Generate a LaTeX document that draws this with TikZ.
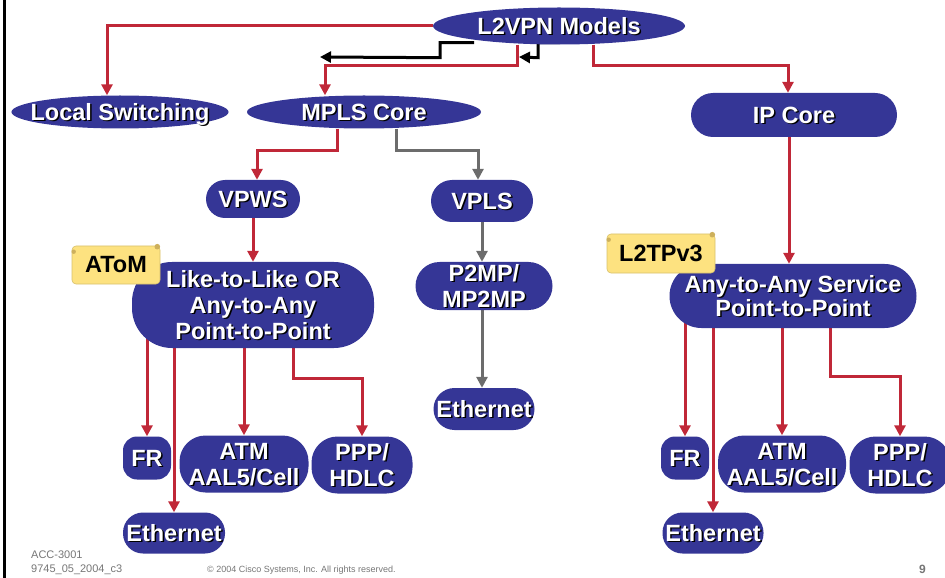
\documentclass[tikz,border=0pt]{standalone}
\usepackage{fontspec}
\setmainfont{Liberation Sans}
\usepackage{xcolor}
\usepackage{tikz}
\usetikzlibrary{positioning,backgrounds,shapes.geometric,arrows.meta}

\definecolor{ciscoblue}{RGB}{53,54,150}
\definecolor{linkred}{RGB}{192,40,56}
\definecolor{linkgray}{RGB}{108,108,108}
\definecolor{tagyellow}{RGB}{253,226,128}
\definecolor{tagdot}{RGB}{205,176,92}
\definecolor{footgray}{RGB}{118,118,118}

\newcommand{\boxfont}{\fontsize{23.5bp}{26bp}\selectfont\bfseries}
\newcommand{\shadowtxt}[1]{\makebox[0pt]{\raisebox{0pt}[0.72em][0pt]{\rlap{\hspace{1.5bp}\raisebox{-1.5bp}[0pt][0pt]{\color{black}#1}}#1}}}

\begin{document}
\begin{tikzpicture}[
    x=1bp, y=-1bp,
    oval/.style={ellipse, fill=ciscoblue, text=white, inner sep=0pt, font=\boxfont},
    pill/.style={rectangle, rounded corners=#1, fill=ciscoblue, text=white, inner sep=0pt, align=center, font=\boxfont},
    pill/.default=20bp,
    tag/.style={rectangle, rounded corners=4bp, fill=tagyellow, draw=tagyellow!85!black, line width=0.6bp, text=black, inner sep=0pt, font=\boxfont},
    redarrow/.style={-{Triangle[width=11bp,length=11bp]}, line width=3bp, draw=linkred},
    grayarrow/.style={-{Triangle[width=11bp,length=11bp]}, line width=3bp, draw=linkgray},
    blackarrow/.style={-{Triangle[width=11bp,length=11bp]}, line width=3bp, draw=black},
    footer/.style={text=footgray, inner sep=0pt, anchor=base west}
]
\useasboundingbox (0,0) rectangle (945,578);

% slide border
\draw[line width=3bp] (4,0) -- (4,578);

% top level
\node[oval, minimum width=252bp, minimum height=37bp] (l2vpn) at (559,26) {\shadowtxt{L2VPN Models}};
\node[oval, minimum width=217bp, minimum height=33bp] (localsw) at (120,112) {\shadowtxt{Local Switching}};
\node[oval, minimum width=234bp, minimum height=33bp] (mpls) at (364,112) {\shadowtxt{MPLS Core}};
\node[pill=22bp, minimum width=206bp, minimum height=44bp] (ipcore) at (794,115) {\shadowtxt{IP Core}};

% MPLS branch
\node[pill=19bp, minimum width=94bp, minimum height=38bp] (vpws) at (253,199) {\shadowtxt{VPWS}};
\node[pill=21bp, minimum width=102bp, minimum height=42bp] (vpls) at (482,201) {\shadowtxt{VPLS}};
\node[pill=40bp, minimum width=242bp, minimum height=86bp] (like) at (253,305) {\shadowtxt{Like-to-Like OR}\\\shadowtxt{Any-to-Any}\\\shadowtxt{Point-to-Point}};
\node[pill=24bp, minimum width=137bp, minimum height=48bp] (p2mp) at (484,286) {\shadowtxt{P2MP/}\\\shadowtxt{MP2MP}};
\node[pill=21bp, minimum width=101bp, minimum height=42bp] (ethmid) at (484,409) {\shadowtxt{Ethernet}};

% IP branch
\node[pill=32bp, minimum width=247bp, minimum height=64bp, font=\fontsize{23.5bp}{24bp}\selectfont\bfseries] (anyany) at (793,296) {\shadowtxt{Any-to-Any Service}\\\shadowtxt{Point-to-Point}};

% left leaves
\node[pill=14bp, minimum width=48bp, minimum height=43bp] (frl) at (147,458) {\shadowtxt{FR}};
\node[pill=26bp, minimum width=129bp, minimum height=57bp] (atml) at (244,464) {\shadowtxt{ATM}\\\shadowtxt{AAL5/Cell}};
\node[pill=26bp, minimum width=101bp, minimum height=57bp] (pppl) at (362,465) {\shadowtxt{PPP/}\\\shadowtxt{HDLC}};
\node[pill=20bp, minimum width=102bp, minimum height=41bp] (ethl) at (174,533) {\shadowtxt{Ethernet}};

% right leaves
\node[pill=14bp, minimum width=48bp, minimum height=43bp] (frr) at (685,458) {\shadowtxt{FR}};
\node[pill=26bp, minimum width=128bp, minimum height=57bp] (atmr) at (782,464) {\shadowtxt{ATM}\\\shadowtxt{AAL5/Cell}};
\node[pill=26bp, minimum width=101bp, minimum height=57bp] (pppr) at (900,465) {\shadowtxt{PPP/}\\\shadowtxt{HDLC}};
\node[pill=20bp, minimum width=101bp, minimum height=41bp] (ethr) at (713,533) {\shadowtxt{Ethernet}};

% tags
\node[tag, minimum width=88bp, minimum height=38bp] (atom) at (116,265) {AToM};
\fill[tagdot] ([xshift=-3bp,yshift=-1bp]atom.north east) circle (2.8bp);
\fill[tagdot] ([xshift=2bp,yshift=-6bp]atom.north west) circle (2.2bp);
\node[tag, minimum width=108bp, minimum height=39bp] (l2tp) at (661,253.5) {L2TPv3};
\fill[tagdot] ([xshift=-3bp,yshift=-1bp]l2tp.north east) circle (2.8bp);
\fill[tagdot] ([xshift=2bp,yshift=-6bp]l2tp.north west) circle (2.2bp);

% connectors behind the boxes
\begin{scope}[on background layer]
\draw[redarrow] (l2vpn.west) -| ([xshift=-13bp]localsw.north);
\draw[redarrow] ([xshift=-42bp]l2vpn.south) -- ++(0,21) -| ([xshift=-39bp]mpls.north);
\draw[redarrow] ([xshift=34bp]l2vpn.south) -- ++(0,21) -| ([xshift=-6bp]ipcore.north);
\coordinate (blk1) at (320,57);
\coordinate (blk2) at (519,57);
\draw[blackarrow] ([xshift=-85bp,yshift=2bp]l2vpn.south) -| ([xshift=-119bp,yshift=-13bp]l2vpn.south) -- (blk1);
\draw[blackarrow] ([xshift=1bp,yshift=2bp]l2vpn.south) -| ([xshift=-21bp,yshift=-13bp]l2vpn.south) -- (blk2);

\draw[redarrow] ([xshift=-27bp]mpls.south) -- ++(0,22) -| ([xshift=4bp]vpws.north);
\draw[grayarrow] ([xshift=32bp]mpls.south) -- ++(0,22) -| ([xshift=-4bp]vpls.north);
\draw[redarrow] (vpws.south) -- (like.north);
\draw[grayarrow] (vpls.south) -- (vpls.south |- p2mp.north);
\draw[grayarrow] ([xshift=-2bp]p2mp.south) -- ([xshift=-2bp]ethmid.north);

\draw[redarrow] (like.center -| frl.north) -- (frl.north);
\draw[redarrow] (like.center -| ethl.north) -- (ethl.north);
\draw[redarrow] (like.center -| atml.north) -- (atml.north);
\draw[redarrow] ([xshift=40bp]like.center) -- ++(0,73) -| (pppl.north);

\draw[redarrow] ([xshift=-5bp]ipcore.south) -- ([xshift=-5bp]ipcore.south |- anyany.north);
\draw[redarrow] (anyany.center -| frr.north) -- (frr.north);
\draw[redarrow] (anyany.center -| ethr.north) -- (ethr.north);
\draw[redarrow] (anyany.center -| atmr.north) -- (atmr.north);
\draw[redarrow] ([xshift=37bp]anyany.center) -- ++(0,80) -| (pppr.north);
\end{scope}

% footer
\node[footer, font=\fontsize{11bp}{13bp}\selectfont] (course) at (31,558) {ACC-3001};
\node[footer, font=\fontsize{11bp}{13bp}\selectfont] (docid) at (31,572) {9745\_05\_2004\_c3};
\node[footer, font=\fontsize{9bp}{11bp}\selectfont] (copyright) at (207,572) {© 2004 Cisco Systems, Inc. All rights reserved.};
\node[footer, anchor=base east, font=\fontsize{12bp}{14bp}\selectfont\bfseries] (pagenum) at (926,573) {9};

\end{tikzpicture}
\end{document}
